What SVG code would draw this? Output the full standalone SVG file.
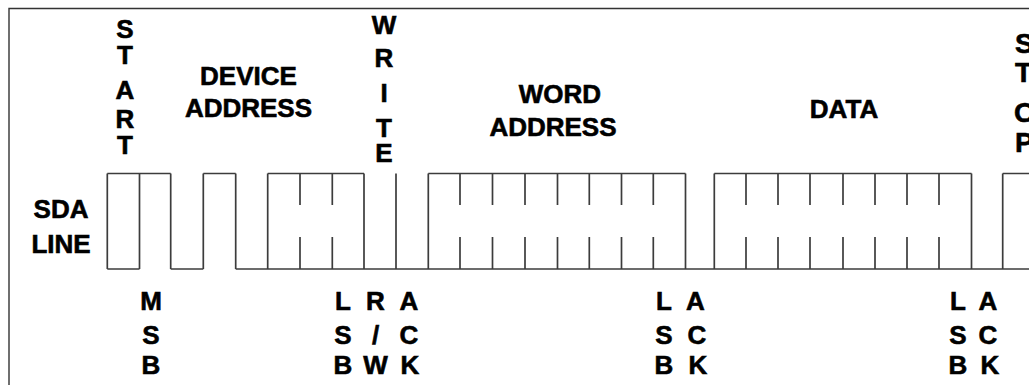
<svg xmlns="http://www.w3.org/2000/svg" width="1029" height="385" viewBox="0 0 1029 385">
<style>
.t{font-family:"Liberation Sans",Arial,sans-serif;font-weight:bold;font-size:26px;fill:#000;stroke:#000;stroke-width:0.6;text-anchor:middle}
.s{text-anchor:start}
.w{fill:none;stroke:#3c3c3c;stroke-width:1.7}
.f{fill:none;stroke:#333;stroke-width:1.4}
</style>
<rect width="1029" height="385" fill="#fff"/>
<path class="f" d="M9,385 V8.5 H1029"/>
<g id="label-start">
<text class="t" x="125" y="37.5">S</text>
<text class="t" x="125" y="64">T</text>
<text class="t" x="125" y="99">A</text>
<text class="t" x="125" y="127.5">R</text>
<text class="t" x="125" y="154">T</text>
</g>
<g id="label-device-address">
<text class="t" x="248.5" y="85">DEVICE</text>
<text class="t" x="248.5" y="116.5">ADDRESS</text>
</g>
<g id="label-write">
<text class="t" x="384" y="33.5">W</text>
<text class="t" x="384" y="67">R</text>
<text class="t" x="384" y="102">I</text>
<text class="t" x="384" y="137">T</text>
<text class="t" x="384" y="162">E</text>
</g>
<g id="label-word-address">
<text class="t" x="560" y="103">WORD</text>
<text class="t" x="553" y="136">ADDRESS</text>
</g>
<g id="label-data">
<text class="t" x="844" y="118">DATA</text>
</g>
<g id="label-stop">
<text class="t s" x="1015" y="53" style="font-size:28px">S</text>
<text class="t s" x="1015" y="81.5" style="font-size:28px">T</text>
<text class="t s" x="1014" y="122" style="font-size:28px">O</text>
<text class="t s" x="1015" y="151.5" style="font-size:28px">P</text>
</g>
<g id="label-sda-line">
<text class="t" x="61" y="218">SDA</text>
<text class="t" x="61" y="253">LINE</text>
</g>
<g id="sda-waveform">
<path class="w" d="M107.3,173.5 H170.7 M203.3,173.5 H235.7 M267.7,173.5 H364 M428.3,173.5 H685.5 M714.3,173.5 H971.5 M1002.7,173.5 H1029"/>
<path class="w" d="M107.3,269 H139.5 M170.7,269 H203.3 M235.7,269 H1029"/>
<path class="w" d="M107.3,173.5 V269 M139.5,173.5 V269 M170.7,173.5 V269 M203.3,173.5 V269 M235.7,173.5 V269 M267.7,173.5 V269 M364,173.5 V269 M396,173.5 V269 M428.3,173.5 V269 M685.5,173.5 V269 M714.3,173.5 V269 M971.5,173.5 V269 M1002.7,173.5 V269"/>
<path class="w" d="M300,173.5 V205 M300,237 V269 M332.3,173.5 V205 M332.3,237 V269 M460,173.5 V205 M460,237 V269 M492.5,173.5 V205 M492.5,237 V269 M525,173.5 V205 M525,237 V269 M557.5,173.5 V205 M557.5,237 V269 M589.3,173.5 V205 M589.3,237 V269 M621.5,173.5 V205 M621.5,237 V269 M653.3,173.5 V205 M653.3,237 V269 M746,173.5 V205 M746,237 V269 M778,173.5 V205 M778,237 V269 M810,173.5 V205 M810,237 V269 M843,173.5 V205 M843,237 V269 M875,173.5 V205 M875,237 V269 M907,173.5 V205 M907,237 V269 M939,173.5 V205 M939,237 V269"/>
</g>
<g id="label-msb">
<text class="t" x="151" y="310">M</text>
<text class="t" x="151" y="343.5">S</text>
<text class="t" x="151" y="373.5">B</text>
</g>
<g id="label-lsb-1">
<text class="t" x="343" y="310">L</text>
<text class="t" x="343" y="343.5">S</text>
<text class="t" x="343" y="373.5">B</text>
</g>
<g id="label-rw">
<text class="t" x="375.5" y="310">R</text>
<text class="t" x="375.5" y="343.5">/</text>
<text class="t" x="375.5" y="373.5">W</text>
</g>
<g id="label-ack-1">
<text class="t" x="409" y="310">A</text>
<text class="t" x="409" y="343.5">C</text>
<text class="t" x="410" y="373.5">K</text>
</g>
<g id="label-lsb-2">
<text class="t" x="664" y="310">L</text>
<text class="t" x="664" y="343.5">S</text>
<text class="t" x="664" y="373.5">B</text>
</g>
<g id="label-ack-2">
<text class="t" x="695.5" y="310">A</text>
<text class="t" x="697" y="343.5">C</text>
<text class="t" x="698" y="373.5">K</text>
</g>
<g id="label-lsb-3">
<text class="t" x="958" y="310">L</text>
<text class="t" x="958" y="343.5">S</text>
<text class="t" x="958" y="373.5">B</text>
</g>
<g id="label-ack-3">
<text class="t" x="988" y="310">A</text>
<text class="t" x="988" y="343.5">C</text>
<text class="t" x="990" y="373.5">K</text>
</g>
</svg>
